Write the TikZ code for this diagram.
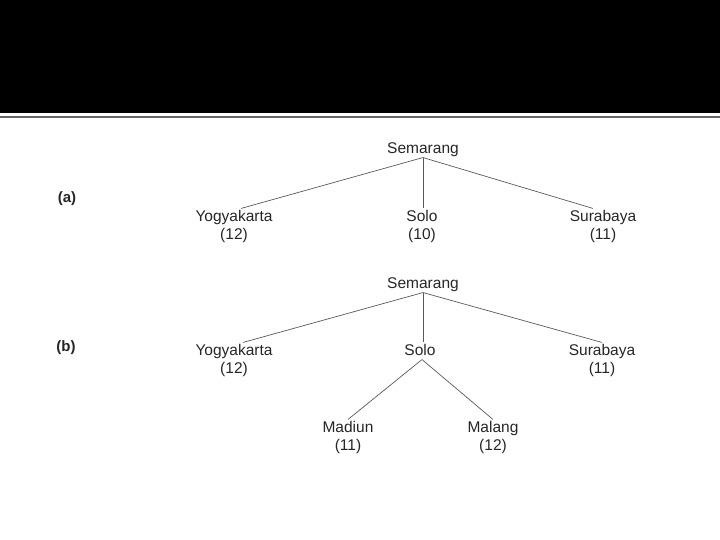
\documentclass[tikz,border=0pt]{standalone}
\usepackage{fontspec}
\setmainfont{Liberation Sans}
\usetikzlibrary{positioning}
\tikzset {
  % city in the search tree
  city/.style = {
    text = black!85,
    font = \fontsize{15.5}{18}\selectfont,
    inner sep = 1pt,
    text height = 11.5pt,
    text depth = 3.2pt
  },
  % value written under a city
  cost/.style = {
    city
  },
  % label of each part
  part/.style = {
    text = black!85,
    font = \fontsize{15}{18}\selectfont\bfseries
  },
  tree edge/.style = {
    draw = black!65,
    line width = 0.7pt
  },
  node distance = 1.3pt
}

\begin{document}
\begin{tikzpicture}[x=1pt, y=-1pt]
    \useasboundingbox (0,0) rectangle (720,540);
    \fill[black] (0,0) rectangle (720,113);
    \draw[draw=black!60, line width=1.2pt] (0,117) -- (720,117);

    % tree (a)
    \node[part] (label-a) at (67,199) {(a)};
    \node[city] (semarang-a) at (423,149) {Semarang};
    \node[city] (yogya-a) at (234,217) {Yogyakarta};
    \node[city] (solo-a) at (422,217) {Solo};
    \node[city] (surabaya-a) at (603,217) {Surabaya};
    \node[cost] (yogya-a-val) [below=of yogya-a] {(12)};
    \node[cost] (solo-a-val) [below=of solo-a] {(10)};
    \node[cost] (surabaya-a-val) [below=of surabaya-a] {(11)};

    \draw[tree edge] (semarang-a.south) -- ([xshift=7pt]yogya-a.north);
    \draw[tree edge] (semarang-a.south) -- (semarang-a.south |- solo-a.north);
    \draw[tree edge] (semarang-a.south) -- ([xshift=-10pt]surabaya-a.north);

    % tree (b)
    \node[part] (label-b) at (66,348) {(b)};
    \node[city] (semarang-b) at (423,284) {Semarang};
    \node[city] (yogya-b) at (234,351) {Yogyakarta};
    \node[city] (solo-b) at (420,351) {Solo};
    \node[city] (surabaya-b) at (602,351) {Surabaya};
    \node[cost] (yogya-b-val) [below=of yogya-b] {(12)};
    \node[cost] (surabaya-b-val) [below=of surabaya-b] {(11)};
    \node[city] (madiun-b) at (348,428) {Madiun};
    \node[city] (malang-b) at (493,428) {Malang};
    \node[cost] (madiun-b-val) [below=of madiun-b] {(11)};
    \node[cost] (malang-b-val) [below=of malang-b] {(12)};

    \draw[tree edge] (semarang-b.south) -- ([xshift=9pt]yogya-b.north);
    \draw[tree edge] (semarang-b.south) -- (semarang-b.south |- solo-b.north);
    \draw[tree edge] (semarang-b.south) -- (surabaya-b.north);
    \draw[tree edge] ([xshift=2pt]solo-b.south) -- (madiun-b.north);
    \draw[tree edge] ([xshift=2pt]solo-b.south) -- (malang-b.north);
  \end{tikzpicture}
\end{document}
